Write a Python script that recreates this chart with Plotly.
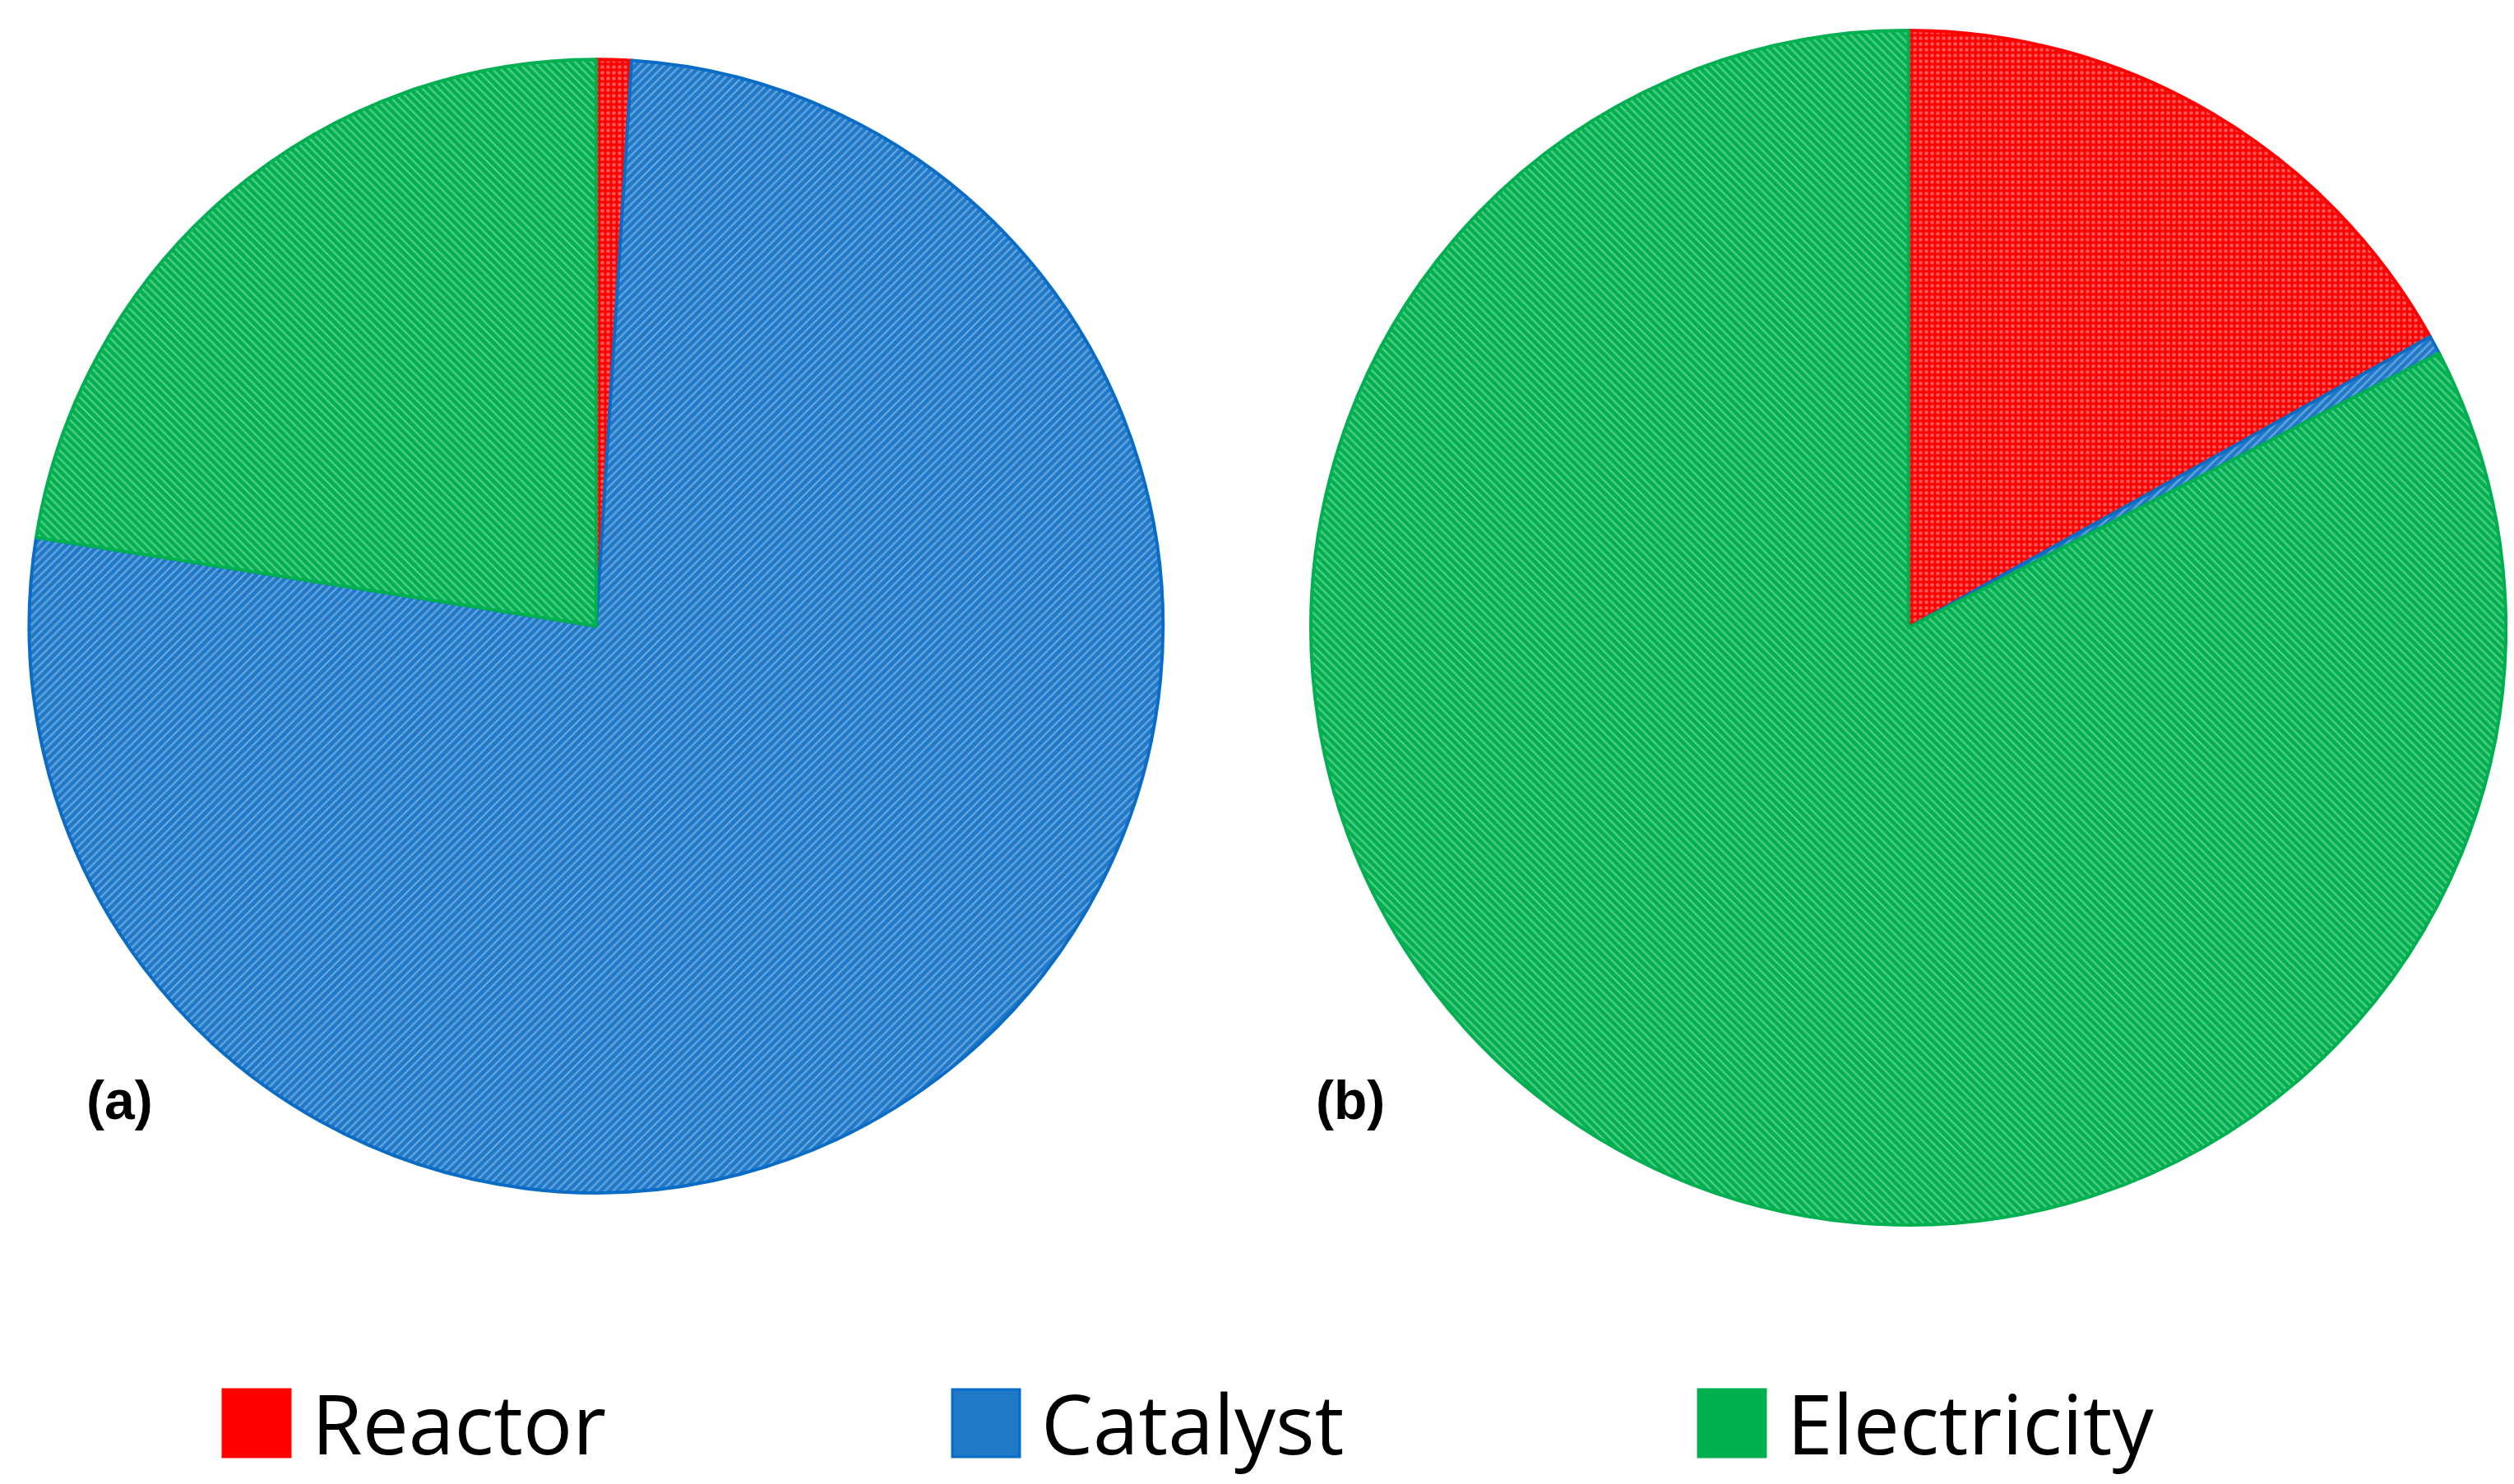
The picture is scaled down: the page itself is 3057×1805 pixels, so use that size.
import plotly.graph_objects as go

labels = ["Reactor", "Catalyst", "Electricity"]
values_a = [1.0, 76.5, 22.5]
values_b = [16.9, 0.5, 82.6]
colors = ["#ff0000", "#1f78c8", "#00b050"]
fg = ["#ffb0b0", "#a8d0f0", "#a0e8c0"]
lines = ["#ff0000", "#0a6cc4", "#00b050"]
shapes = [".", "/", "\\"]
legend_x = [263, 1150, 2057]

def pie(vals, dom):
    return go.Pie(labels=labels, values=vals, sort=False, direction="clockwise",
                  rotation=0, textinfo="none", hoverinfo="label+percent",
                  showlegend=False, domain=dom,
                  marker=dict(colors=colors, line=dict(color=lines, width=4),
                              pattern=dict(shape=shapes, fgcolor=fg, size=7, solidity=0.35,
                                           fillmode="overlay")))

fig = go.Figure([
    pie(values_a, dict(x=[0.009, 0.46], y=[0.2006, 0.9645])),
    pie(values_b, dict(x=[0.518, 0.995], y=[0.179, 0.984])),
])
W, H = 3057, 1805
shp = []
ann = [
    dict(text="<b>(a)</b>", x=95/W, y=1-1369/H, xref="paper", yref="paper",
         showarrow=False, font=dict(family="Liberation Sans", size=66, color="black")),
    dict(text="<b>(b)</b>", x=1634/W, y=1-1369/H, xref="paper", yref="paper",
         showarrow=False, font=dict(family="Liberation Sans", size=66, color="black")),
]
for lab, c, lc, lx in zip(labels, colors, lines, legend_x):
    shp.append(dict(type="rect", xref="paper", yref="paper",
                    x0=lx/W, x1=(lx+82)/W, y0=1-1764/H, y1=1-1682/H,
                    fillcolor=c, line=dict(color=lc, width=3)))
    ann.append(dict(text=lab, x=(lx+106)/W, y=1-1722/H, xref="paper", yref="paper",
                    xanchor="left", yanchor="middle", showarrow=False,
                    font=dict(family="Open Sans", size=100, color="black")))
fig.update_layout(
    width=W, height=H, paper_bgcolor="white", plot_bgcolor="white",
    margin=dict(l=0, r=0, t=0, b=0), shapes=shp, annotations=ann,
)
fig.write_html("out.html")
